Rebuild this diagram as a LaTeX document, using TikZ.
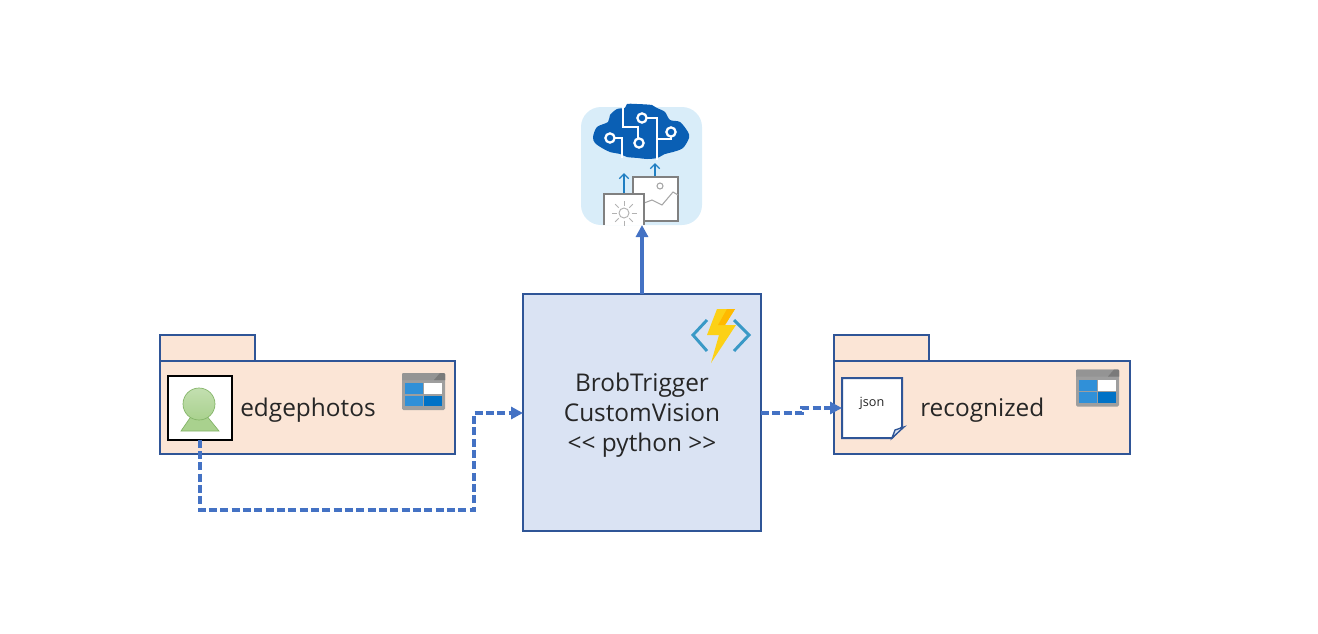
\documentclass[tikz,border=0pt]{standalone}
\usepackage{fontspec}
\setmainfont{Open Sans}
\usetikzlibrary{arrows.meta,shadings}
\definecolor{peach}{HTML}{FBE5D6}
\definecolor{framed}{HTML}{2F5597}
\definecolor{funcblue}{HTML}{DAE3F3}
\definecolor{flowblue}{HTML}{4472C4}
\definecolor{iconblue}{HTML}{0A5FB4}
\definecolor{skyblue}{HTML}{D9EDF9}
\definecolor{arrowblue}{HTML}{1F7EC2}
\definecolor{cellblue}{HTML}{3090D8}
\definecolor{celldark}{HTML}{0072C6}
\definecolor{chevron}{HTML}{3999C6}
\definecolor{boltlight}{HTML}{FCD116}
\definecolor{boltdark}{HTML}{FFB900}
\definecolor{bodygreen}{HTML}{A9D18E}
\definecolor{edgegreen}{HTML}{82B366}
\tikzset{
  folder/.style={draw=framed, fill=peach, line width=1.5pt, inner sep=0pt, outer sep=0pt},
  label/.style={text=black!85, inner sep=0pt, font=\fontsize{18.3}{22.5}\selectfont},
  flow/.style={draw=flowblue, line width=2.4pt, -{Triangle[length=9pt,width=9pt]}},
  flowdash/.style={flow, dash pattern=on 6pt off 2.5pt},
  pics/tableicon/.style={code={
    \fill[black!38, rounded corners=1pt] (0,0) rectangle (43,37);
    \fill[black!42] (0,7) -- (0,1) -- (1,0) -- (42,0) -- (43,1) -- (43,7) -- cycle;
    \fill[black!52] (32,7) -- (38,0) -- (42,0) -- (43,1) -- (43,7) -- cycle;
    \fill[white] (22,10) rectangle (40,21);
    \fill[cellblue] (3,10) rectangle (20.5,21);
    \fill[cellblue] (3,22.5) rectangle (20.5,33);
    \fill[celldark] (22,22.5) rectangle (40,33);
  }}
}
\begin{document}
\begin{tikzpicture}[x=.75pt,y=-.75pt]
  \useasboundingbox (0,0) rectangle (1318,633);
  % left container
  \node[folder, minimum width=71.25pt, minimum height=19.5pt] (edgetab) at (207.5,348) {};
  \node[folder, minimum width=221.25pt, minimum height=69.75pt] (edgebox) at (307.5,407.5) {};
  \pic at (402,373) {tableicon};
  \node[draw=black, fill=white, line width=1.5pt, minimum size=48pt, inner sep=0pt, outer sep=0pt] (photo) at (200,407.5) {};
  \fill[bodygreen, draw=edgegreen, line width=.5pt] (192,415) -- (206,415) -- (219,431) -- (181,431) -- cycle;
  \shade[top color=bodygreen!70!white, bottom color=bodygreen, draw=edgegreen, line width=.5pt] (199,404) circle (16);
  \node[label, anchor=west] (edgelabel) at (240,410) {edgephotos};
  % right container
  \node[folder, minimum width=71.25pt, minimum height=19.5pt] (rectab) at (881.5,348) {};
  \node[folder, minimum width=222pt, minimum height=69.75pt] (recbox) at (982,407.5) {};
  \pic at (1076,369.5) {tableicon};
  \node[minimum size=45pt, inner sep=0pt, outer sep=0pt] (jsonnote) at (872,408) {};
  \draw[framed, fill=white, line width=1.5pt] (jsonnote.north west) -- (jsonnote.north east) -- (902,427) -- (892,438) -- (jsonnote.south west) -- cycle;
  \draw[framed, fill=funcblue, line width=1pt] (892,438) -- (895,430) -- (904,427) -- cycle;
  \node[font=\fontsize{9.5}{11}\selectfont, text=black!85] (jsonlabel) at (872,403) {json};
  \node[label, anchor=west] (reclabel) at (920,410) {recognized};
  % function
  \node[folder, fill=funcblue, minimum width=178.5pt, minimum height=178pt] (func) at (642,412.5) {};
  \node[label, align=center] (funclabel) at (642,415) {BrobTrigger\\CustomVision\\<{}< python >{}>};
  \draw[draw=chevron, line width=2.2pt] (707,320) -- (693,335) -- (707,351);
  \draw[draw=chevron, line width=2.2pt] (734,320) -- (749,335) -- (734,351);
  \fill[boltlight] (717,309) -- (735,309) -- (725,325) -- (736,325) -- (711,363) -- (719,335) -- (707,335) -- cycle;
  \fill[boltdark] (727,309) -- (735,309) -- (725,325) -- (718,325) -- cycle;
  % vision service
  \node[fill=skyblue, rounded corners=15pt, minimum width=90.75pt, minimum height=88.5pt, inner sep=0pt, outer sep=0pt] (vision) at (641.5,166) {};
  \fill[iconblue] plot[smooth cycle, tension=.5] coordinates {(593,137) (597,127) (608,122) (610,115) (617,109) (625,108) (627,104) (637,104) (652,105) (657,108) (665,112) (670,120) (680,122) (688,132) (689,138) (683,148) (673,152) (665,154) (657,158) (647,159) (638,158) (627,157) (620,154) (610,152) (602,148) (595,143)};
  \draw[white, line width=1.5pt] (623,103) -- (623,127) -- (638,127) -- (638,139);
  \draw[white, line width=1.5pt] (614,138) -- (622,138) -- (622,158);
  \draw[white, line width=1.5pt] (645,118) -- (657,118) -- (657,160);
  \draw[white, line width=1.5pt] (671,136) -- (671,139) -- (657,139);
  \draw[white, fill=iconblue, line width=1.7pt] (610,138) circle (4.6) (639,143) circle (4.6) (642,118) circle (4.6) (671,132) circle (4.6);
  \draw[arrowblue, line width=1pt, -{Straight Barb[length=3.5pt,width=7pt]}] (624,194) -- (624,173);
  \draw[arrowblue, line width=1pt, -{Straight Barb[length=3.5pt,width=7pt]}] (655,177) -- (655,163);
  \draw[black!50, fill=white, line width=.9pt] (633,177) rectangle (678,221);
  \draw[black!35, line width=.8pt] (660,186) circle (3);
  \draw[black!35, line width=.8pt] (644,203) -- (652,200) -- (662,205) -- (673,192) -- (678,195);
  \fill[white] (604,194) rectangle (644,225);
  \draw[black!50, line width=.9pt] (604,225) -- (604,194) -- (644,194) -- (644,225);
  \draw[black!30, line width=.7pt] (624,213) circle (5);
  \foreach \a in {0,45,...,315}
    \draw[black!30, line width=.7pt] (624,213) ++(\a:7.5) -- ++(\a:5);
  % connectors
  \draw[flow] (func.north) -- (func.north |- vision.south);
  \draw[flowdash] (photo.south) -- (200,510) -- (474,510) -- (474,413) -- (func.west |- 0,413);
  \draw[flowdash] (func.east |- 0,413) -- (802,413) -- (802,408) -- (jsonnote.west);
\end{tikzpicture}
\end{document}
